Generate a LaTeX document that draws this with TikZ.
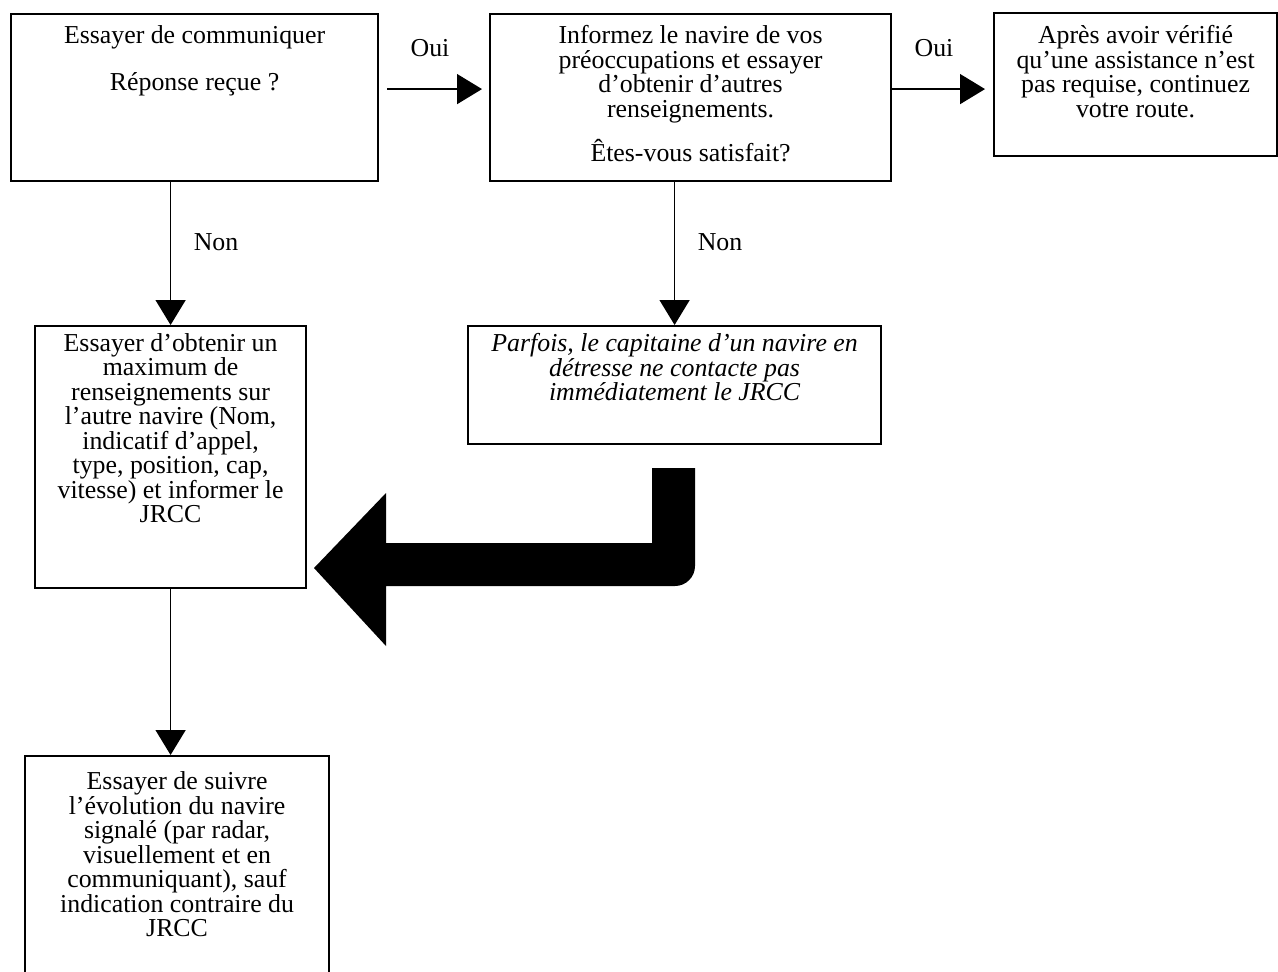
\documentclass[tikz,border=0pt]{standalone}
\usepackage{fontspec}
\setmainfont{Liberation Serif}
\usetikzlibrary{arrows.meta}
\tikzset{
  boite/.style={draw, line width=1.3pt, inner sep=0pt, anchor=north west},
  texte/.style={align=center, inner sep=0pt, anchor=north, font=\fontsize{15.5}{14.7}\selectfont},
  fleche/.style={line width=0.9pt, -{Triangle[length=15pt,width=18pt]}},
  etiquette/.style={inner sep=0pt, font=\fontsize{15.5}{14.7}\selectfont}
}
\begin{document}
\begin{tikzpicture}[x=0.6pt, y=-0.6pt]
\useasboundingbox (0,0) rectangle (1278,971);
% les cases
\node [boite, minimum width=220.2pt, minimum height=100.2pt] (b1) at (10,13) {};
\node [boite, minimum width=240.6pt, minimum height=100.2pt] (b2) at (489,13) {};
\node [boite, minimum width=169.8pt, minimum height=85.8pt] (b3) at (993,12) {};
\node [boite, minimum width=162.6pt, minimum height=157.2pt] (b4) at (34,325) {};
\node [boite, minimum width=247.8pt, minimum height=70.8pt] (b5) at (467,325) {};
\node [boite, minimum width=182.4pt, minimum height=132pt] (b6) at (24,755) {};
% les textes
\node [texte] (t1) at ([yshift=-7.2pt]b1.north) {Essayer de communiquer\\[13.5pt]Réponse reçue ?};
\node [texte] (t2) at ([yshift=-7.2pt]b2.north) {Informez le navire de vos\\préoccupations et essayer\\d’obtenir d’autres\\renseignements.\\[9.3pt]Êtes-vous satisfait?};
\node [texte] (t3) at ([yshift=-7.8pt]b3.north) {Après avoir vérifié\\qu’une assistance n’est\\pas requise, continuez\\votre route.};
\node [texte] (t4) at ([yshift=-4.8pt]b4.north) {Essayer d’obtenir un\\maximum de\\renseignements sur\\l’autre navire (Nom,\\indicatif d’appel,\\type, position, cap,\\vitesse) et informer le\\JRCC};
\node [texte, font=\fontsize{15.5}{14.7}\selectfont\itshape] (t5) at ([yshift=-4.8pt]b5.north) {Parfois, le capitaine d’un navire en\\détresse ne contacte pas\\immédiatement le JRCC};
\node [texte] (t6) at ([yshift=-10pt]b6.north) {Essayer de suivre\\l’évolution du navire\\signalé (par radar,\\visuellement et en\\communiquant), sauf\\indication contraire du\\JRCC};
% les etiquettes
\node [etiquette] (oui1) at (430,48) {Oui};
\node [etiquette] (oui2) at (934,48) {Oui};
\node [etiquette] (non1) at (216,242) {Non};
\node [etiquette] (non2) at (720,242) {Non};
% les fleches
\coordinate (o1) at ([yshift=5.1pt]b1.east);
\coordinate (o2) at ([yshift=5.1pt]b2.east);
\draw [fleche, shorten <=4.8pt, shorten >=4.2pt] (o1) -- (o1 -| b2.west);
\draw [fleche, shorten >=4.8pt] (o2) -- (o2 -| b3.west);
\draw [fleche] (b4.north |- b1.south) -- (b4.north);
\draw [fleche] (b5.north |- b2.south) -- (b5.north);
\draw [fleche] (b4.south) -- (b4.south |- b6.north);
% la grosse fleche
\fill (652,468) -- (695,468) -- (695,566) .. controls (695,577) and (686,586) .. (675,586) -- (386,586) -- (386,646) -- (314,568) -- (386,493) -- (386,543) -- (652,543) -- cycle;
\end{tikzpicture}
\end{document}
